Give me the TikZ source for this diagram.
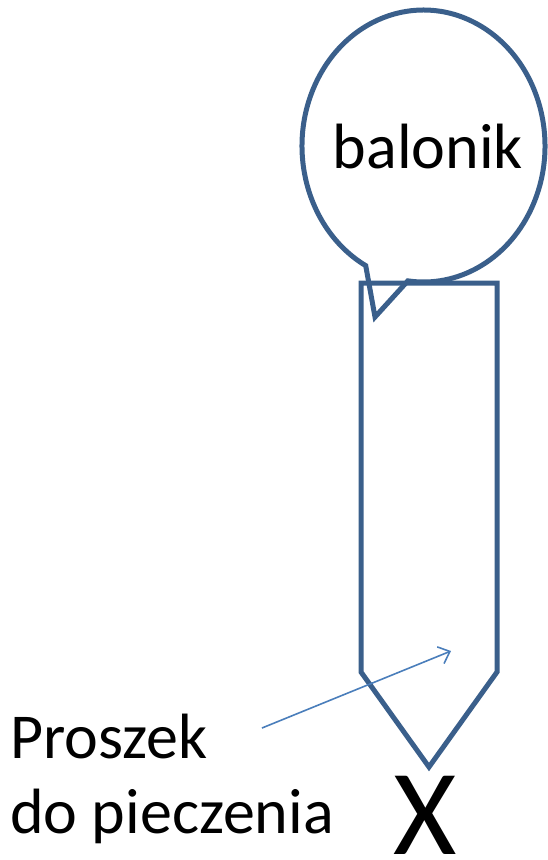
\documentclass[tikz,border=0pt]{standalone}
\usepackage{fontspec}
\setmainfont{Carlito}
\usetikzlibrary{arrows.meta}
\definecolor{bodyblue}{HTML}{3A5F8B}
\definecolor{pointerblue}{HTML}{4A7EBB}
\tikzstyle{body}=[draw=bodyblue, line width=5pt, line join=miter]
\tikzstyle{txt}=[inner sep=0pt, font=\fontsize{64}{76}\selectfont]
\tikzstyle{pointerline}=[draw=pointerblue, line width=1.6pt, -{Straight Barb[length=10pt, width=18pt]}]

\begin{document}
\begin{tikzpicture}[x=1pt, y=-1pt]
				\useasboundingbox (0,0) rectangle (547,860);
				% balonik
				\draw [style=body] (423.5,146) ++(118.4:121.5 and 136)
					arc [start angle=118.4, end angle=457.4, x radius=121.5, y radius=136]
					-- (375,317) -- cycle;
				\node [style=txt, anchor=base] (balonik) at (428,168) {balonik};
				% tube
				\draw [style=body] (361,283) -- (497,283) -- (497,672) -- (429,767) -- (361,672) -- cycle;
				% labels
				\node [style=txt, anchor=base west] (proszek) at (10,758) {Proszek};
				\node [style=txt, anchor=base west] (pieczenia) at (10,833) {do pieczenia};
				\node [inner sep=0pt, anchor=base, font=\fontsize{122}{122}\selectfont] (x) at (425,854) {X};
				\coordinate (tail) at (262,728);
				\coordinate (head) at (451,651);
				\draw [style=pointerline] (tail) -- (head);
			\end{tikzpicture}
\end{document}
